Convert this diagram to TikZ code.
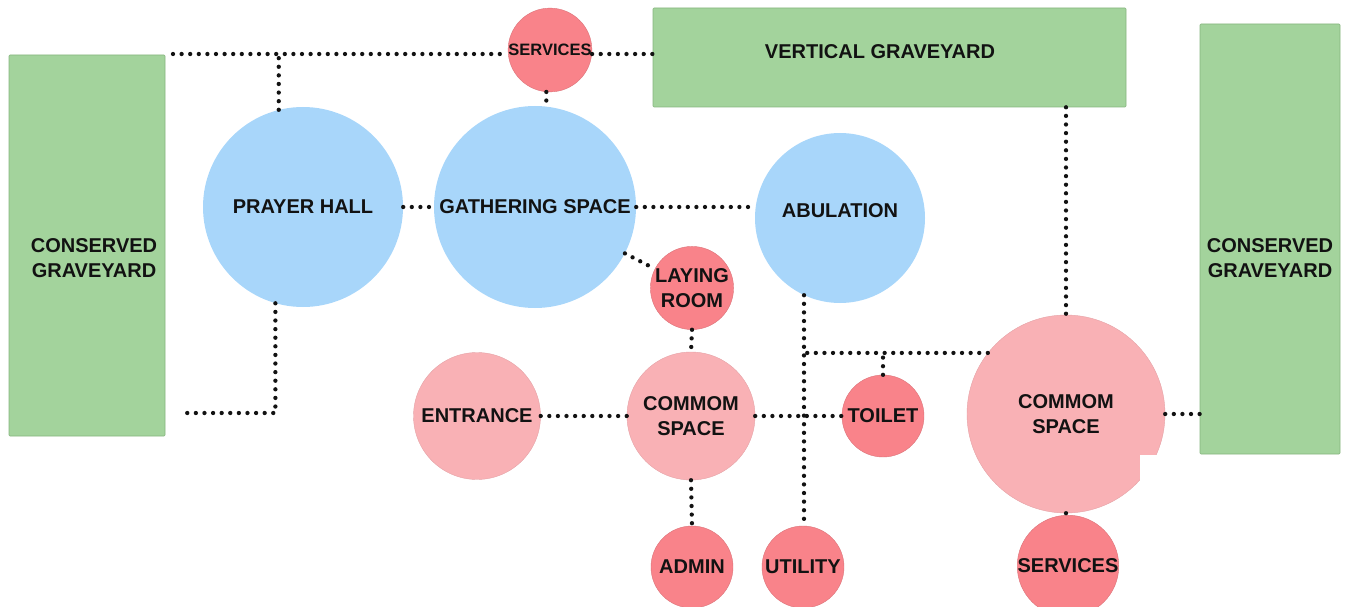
\documentclass[tikz,border=0pt]{standalone}
\usepackage{fontspec}
\setmainfont{Liberation Sans}
\definecolor{zonegreen}{HTML}{A3D39C}
\definecolor{zoneedge}{HTML}{86B47F}
\definecolor{hallblue}{HTML}{A8D6FA}
\definecolor{spacepink}{HTML}{F9B1B5}
\definecolor{auxred}{HTML}{F9838A}
\definecolor{ink}{HTML}{121212}
\begin{document}
\begin{tikzpicture}[x=1pt,y=-1pt,
  lbl/.style={font=\bfseries\fontsize{20}{24.5}\selectfont, text=ink, align=center, inner sep=0pt},
  zone/.style={fill=zonegreen, draw=zoneedge, line width=0.6pt, inner sep=0pt, rounded corners=1pt},
  room/.style={circle, inner sep=0pt, lbl},
  hall/.style={room, fill=hallblue},
  space/.style={room, fill=spacepink, draw=spacepink!92!black, line width=0.4pt},
  aux/.style={room, fill=auxred, draw=auxred!88!black, line width=0.4pt},
  link/.style={line width=4.3pt, line cap=round, dash pattern=on 0pt off 8.6pt, draw=ink},
]
\useasboundingbox (0,0) rectangle (1349,607);

% graveyard zones
\node[zone, minimum width=156pt, minimum height=381pt] (cgL) at (87,245.5) {};
\node[lbl] (cgLt) at (94,258) {CONSERVED\\GRAVEYARD};
\node[zone, minimum width=473pt, minimum height=99pt] (vg) at (889.5,57.5) {};
\node[lbl] (vgt) at (880,52) {VERTICAL GRAVEYARD};
\node[zone, minimum width=140pt, minimum height=430pt] (cgR) at (1270,239) {};
\node[lbl] (cgRt) at (1270,258) {CONSERVED\\GRAVEYARD};

% main halls
\node[hall, minimum size=200pt] (ph) at (303,207) {PRAYER HALL};
\node[hall, minimum size=202pt] (gs) at (535,207) {GATHERING SPACE};
\node[hall, minimum size=170pt] (ab) at (840,218) {};
\node[lbl] (abt) at (840,211) {ABULATION};

% common spaces
\node[space, minimum size=127pt] (ent) at (477,416) {ENTRANCE};
\node[space, minimum size=128pt] (cs1) at (691,416) {COMMOM\\SPACE};
\node[space, minimum size=198pt] (cs2) at (1066,414) {COMMOM\\SPACE};
\fill[white] (1140,455) rectangle (1349,607);

% auxiliary rooms
\node[aux, minimum size=83pt, font=\bfseries\fontsize{16.5}{20}\selectfont] (svcT) at (550,50) {SERVICES};
\node[aux, minimum size=82pt] (lr) at (692,288) {LAYING\\ROOM};
\node[aux, minimum size=82pt] (toilet) at (883,416) {TOILET};
\node[aux, minimum size=82pt] (admin) at (692,567) {ADMIN};
\node[aux, minimum size=82pt] (util) at (803,567) {UTILITY};
\node[aux, minimum size=80pt] (svcB) at (1068,566) {SERVICES};

% free ends of the left corridor
\coordinate (tl) at (173,54);
\coordinate (bl) at (180,413);

% dotted relations
\draw[link] (tl) -- (svcT.west |- tl);
\draw[link] (svcT.east |- tl) -- (vg.west |- tl);
\draw[link] (ph.104) -- (ph.104 |- tl);
\draw[link] (ph.254) -- (ph.254 |- bl) -- (bl);
\draw[link] (ph.east) -- (gs.west);
\draw[link] (svcT.265) -- (svcT.265 |- gs.north);
\draw[link] (gs.east) -- (gs.east -| ab.west);
\draw[link] (gs) -- (lr);
\draw[link] (lr.south) -- (cs1.north);
\draw[link] (ent.east) -- (cs1.west);
\draw[link] (cs1.east) -- (toilet.west);
\draw[link] (cs1.south) -- (admin.north);
\draw[link] (ab.245) -- (ab.245 |- util.north);
\draw[link] (cs2.142) -- (util.north |- cs2.142);
\draw[link] (toilet.north) -- (toilet.north |- cs2.142);
\draw[link] (vg.south -| cs2.north) -- (cs2.north);
\draw[link] (cs2.east) -- (cs2.east -| cgR.west);
\draw[link] (cs2.south) -- (svcB.north);
\end{tikzpicture}
\end{document}
